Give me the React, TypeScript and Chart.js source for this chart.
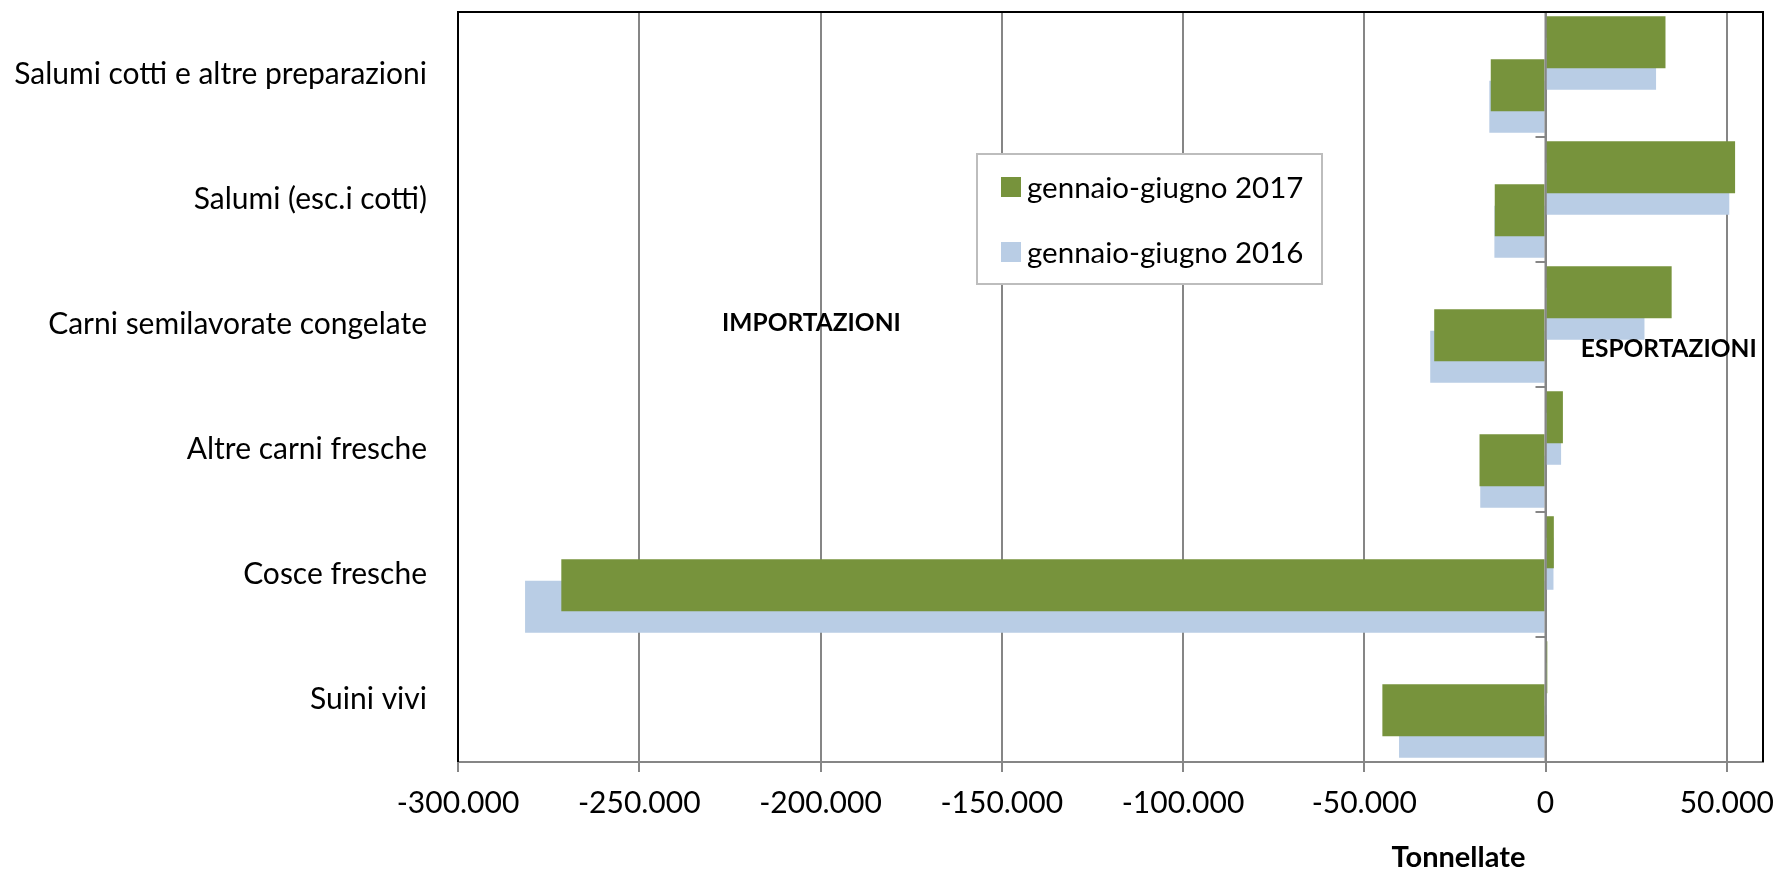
import React, { useEffect, useRef } from 'react';
import { Chart, registerables } from 'chart.js';

Chart.register(...registerables);

const categories = [
  'Salumi cotti e altre preparazioni',
  'Salumi (esc.i cotti)',
  'Carni semilavorate congelate',
  'Altre carni fresche',
  'Cosce fresche',
  'Suini vivi',
];
const export2017 = [33100, 52300, 34800, 4800, 2300, 500];
const export2016 = [30500, 50700, 27300, 4300, 2200, 200];
const import2017 = [-15100, -14000, -30700, -18200, -271500, -45000];
const import2016 = [-15500, -14100, -31800, -18000, -281500, -40400];
const seriesLabels = ['gennaio-giugno 2017', 'gennaio-giugno 2016'];
const xTickValues = [-300000, -250000, -200000, -150000, -100000, -50000, 0, 50000];
const xMin = -300000;
const xMax = 60000;
const axisTitle = 'Tonnellate';
const importLabel = 'IMPORTAZIONI';
const exportLabel = 'ESPORTAZIONI';

const GREEN = '#77933C';
const BLUE = '#B9CDE5';
const GRID = '#868686';
const FONT = 'Lato';

const fmt = (v: number) => {
  const s = Math.abs(v).toString().replace(/\B(?=(\d{3})+(?!\d))/g, '.');
  return (v < 0 ? '-' : '') + s;
};

const overlayPlugin = {
  id: 'overlay',
  afterDatasetsDraw(chart: any) {
    const { ctx, chartArea: a, scales } = chart;
    const x = scales.x;
    const y = scales.y;
    ctx.save();
    // zero axis with tick marks
    const x0 = x.getPixelForValue(0);
    ctx.strokeStyle = GRID;
    ctx.lineWidth = 2;
    ctx.beginPath();
    ctx.moveTo(x0, a.top);
    ctx.lineTo(x0, a.bottom);
    for (let i = 0; i <= categories.length; i++) {
      const yy = y.getPixelForValue(i - 0.5);
      ctx.moveTo(x0 - 10, yy);
      ctx.lineTo(x0, yy);
    }
    ctx.stroke();

    // plot frame (top, left, right)
    ctx.strokeStyle = '#000';
    ctx.lineWidth = 2;
    ctx.beginPath();
    ctx.moveTo(a.left, a.bottom);
    ctx.lineTo(a.left, a.top);
    ctx.lineTo(a.right, a.top);
    ctx.lineTo(a.right, a.bottom);
    ctx.stroke();

    // legend box
    const lx = 977, ly = 154, lw = 345, lh = 130;
    ctx.fillStyle = '#fff';
    ctx.fillRect(lx, ly, lw, lh);
    ctx.strokeStyle = '#BDBDBD';
    ctx.lineWidth = 2;
    ctx.strokeRect(lx, ly, lw, lh);
    const colors = [GREEN, BLUE];
    ctx.font = `29.5px ${FONT}`;
    ctx.textBaseline = 'middle';
    ctx.textAlign = 'left';
    seriesLabels.forEach((lab, i) => {
      const cy = ly + 33 + i * 65;
      ctx.fillStyle = colors[i];
      ctx.fillRect(lx + 24, cy - 10, 20, 20);
      ctx.fillStyle = '#000';
      ctx.fillText(lab, lx + 50, cy + 1);
    });

    // annotations
    const band = y.getPixelForValue(1) - y.getPixelForValue(0);
    ctx.font = `bold 24.5px ${FONT}`;
    ctx.textAlign = 'center';
    ctx.fillStyle = '#000';
    ctx.fillText(importLabel, x.getPixelForValue(-202500), y.getPixelForValue(2) - 1);
    ctx.fillText(exportLabel, x.getPixelForValue(34000), y.getPixelForValue(2) + band * 0.2);
    ctx.font = `bold 29px ${FONT}`;
    ctx.fillText(axisTitle, x.getPixelForValue(-24000), a.bottom + 96);
    ctx.restore();
  },
};

export default function App() {
  const ref = useRef<HTMLCanvasElement | null>(null);
  useEffect(() => {
    document.body.style.margin = '0';
    if (!ref.current) return;
    const barOpts = { categoryPercentage: 0.688, barPercentage: 2.42, borderWidth: 0 };
    const chart = new Chart(ref.current, {
      type: 'bar',
      data: {
        labels: categories,
        datasets: [
          { label: seriesLabels[0], data: export2017, backgroundColor: GREEN, ...barOpts },
          { label: seriesLabels[1], data: export2016, backgroundColor: BLUE, ...barOpts },
          { label: seriesLabels[0], data: import2017, backgroundColor: GREEN, ...barOpts },
          { label: seriesLabels[1], data: import2016, backgroundColor: BLUE, ...barOpts },
        ],
      },
      options: {
        indexAxis: 'y',
        animation: false,
        responsive: false,
        layout: { padding: { top: 12, right: 12, left: 0, bottom: 0 } },
        plugins: { legend: { display: false }, tooltip: { enabled: false } },
        scales: {
          x: {
            type: 'linear',
            min: xMin,
            max: xMax,
            afterBuildTicks: (s: any) => { s.ticks = xTickValues.map((v) => ({ value: v })); },
            afterFit: (s: any) => { s.height = 107; s.paddingLeft = 0; s.paddingRight = 0; },
            ticks: {
              maxRotation: 0,
              minRotation: 0,
              autoSkip: false,
              callback: (v: any) => fmt(Number(v)),
              font: { family: FONT, size: 30 },
              color: '#000',
              padding: 13,
            },
            grid: { color: GRID, lineWidth: 2, tickLength: 10, drawTicks: true },
            border: { color: GRID, width: 2 },
          },
          y: {
            type: 'category',
            afterFit: (s: any) => { s.width = 458; s.paddingTop = 0; s.paddingBottom = 0; },
            grid: { display: false, drawTicks: false },
            border: { display: false },
            ticks: { font: { family: FONT, size: 30 }, color: '#000', padding: 31, autoSkip: false },
          },
        },
      } as any,
      plugins: [overlayPlugin],
    });
    return () => chart.destroy();
  }, []);
  return (
    <div style={{ position: 'absolute', left: 0, top: 0, width: 1775, height: 869 }}>
      <canvas ref={ref} width={1775} height={869} style={{ width: 1775, height: 869 }} />
    </div>
  );
}
